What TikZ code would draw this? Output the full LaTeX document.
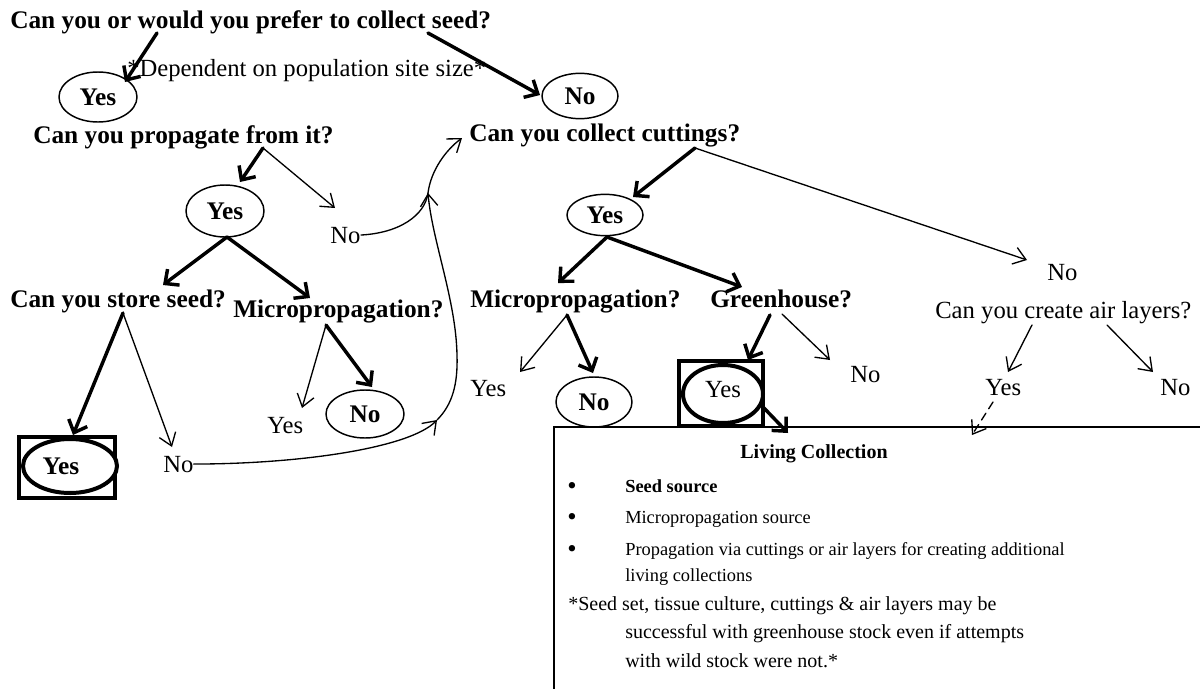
\documentclass[tikz,border=0pt]{standalone}
\usepackage{fontspec}
\setmainfont{Liberation Serif}
\usetikzlibrary{arrows.meta,shapes.geometric}

\tikzset{
  qtext/.style={font=\fontsize{19}{22}\selectfont\bfseries, inner sep=0pt, anchor=base west},
  ltext/.style={font=\fontsize{18.5}{22}\selectfont, inner sep=0pt, anchor=base west},
  oval/.style={ellipse, draw, line width=1.1pt, inner sep=0pt, fill=white,
               font=\fontsize{19}{22}\selectfont\bfseries},
  heavyoval/.style={ellipse, draw, line width=3pt, inner sep=0pt, fill=white},
  heavyframe/.style={rectangle, draw, line width=3.6pt, inner sep=0pt},
  thk/.style={line width=2.6pt, line cap=round, line join=round,
              -{Straight Barb[length=8pt,width=15pt]}},
  thn/.style={line width=1pt, line cap=round,
              -{Straight Barb[length=9pt,width=13pt]}},
  plain/.style={line width=1pt},
  boxtitle/.style={font=\fontsize{15}{18}\selectfont\bfseries, inner sep=0pt, anchor=base},
  bul/.style={font=\fontsize{13.8}{19.5}\selectfont, inner sep=0pt, anchor=base west},
  dot/.style={font=\fontsize{20}{20}\selectfont, inner sep=0pt, anchor=base},
  foot/.style={font=\fontsize{15}{21.4}\selectfont, inner sep=0pt, anchor=base west},
}

\begin{document}
\begin{tikzpicture}[x=0.75pt,y=-0.75pt]
\useasboundingbox (0,0) rectangle (1200,689);

% ---------- seed branch ----------
\node[qtext] (qseed) at (10,28) {Can you or would you prefer to collect seed?};
\node[ltext] (note) at (127,76) {*Dependent on population site size*};
\node[oval, minimum width=58.5pt, minimum height=37.5pt] (yes1) at (98,97) {Yes};
\node[oval, minimum width=57pt, minimum height=34pt] (no1) at (580,96) {No};

\coordinate (s1) at (157,33);  \coordinate (e1) at (125,82);
\coordinate (s2) at (428,33);  \coordinate (e2) at (540,95);
\draw[thk] (s1) -- (e1);
\draw[thk] (s2) -- (e2);

\node[qtext] (qprop) at (33,143) {Can you propagate from it?};
\node[oval, minimum width=58.5pt, minimum height=39pt] (yes2) at (225,211) {Yes};
\node[ltext] (no2) at (330,243) {No};

\coordinate (s3) at (263,148);
\coordinate (e3) at (240,182);
\coordinate (e4) at (335,208);
\draw[thk] (s3) -- (e3);
\draw[thn] (s3) -- (e4);

\node[qtext] (qstore) at (10,307) {Can you store seed?};
\node[qtext] (qmicroA) at (233,317) {Micropropagation?};

\coordinate (s5) at (227,237);
\coordinate (e5) at (163,285);
\coordinate (e6) at (310,298);
\draw[thk] (s5) -- (e5);
\draw[thk] (s5) -- (e6);

% stored seed: framed result
\node[heavyframe, minimum width=72pt, minimum height=45.75pt] (yes3frame) at (67,467.5) {};
\node[heavyoval, minimum width=70.5pt, minimum height=40.5pt,
      label={[font=\fontsize{19}{22}\selectfont\bfseries, xshift=-6.75pt]center:Yes}] (yes3) at (70,466) {};
\node[ltext] (no3) at (163,472) {No};

\coordinate (s7) at (123,313);
\coordinate (e7) at (73,435);
\coordinate (e8) at (172,447);
\draw[thk] (s7) -- (e7);
\draw[thn] (s7) -- (e8);

\node[ltext] (yes4) at (267,433) {Yes};
\node[oval, minimum width=58.5pt, minimum height=36pt] (no4) at (365,414) {No};

\coordinate (s9) at (326,325);
\coordinate (e9) at (302,408);
\coordinate (e10) at (372,387);
\draw[thn] (s9) -- (e9);
\draw[thk] (s9) -- (e10);

% ---------- return paths to the cuttings question ----------
\node[qtext] (qcut) at (469,141) {Can you collect cuttings?};
\coordinate (jA) at (437,420);
\coordinate (jB) at (428,193);
\coordinate (jC) at (462,138);

\draw[thn] (no3.east) .. controls (300,464) and (410,448) .. (jA);
\draw[thn] (jA) .. controls (452,405) and (458,385) .. (457,355)
                .. controls (456,300) and (432,240) .. (jB);
\draw[plain] (no2.east) .. controls (400,233) and (425,215) .. (jB);
\draw[thn] (jB) .. controls (431,170) and (446,150) .. (jC);

% ---------- cuttings branch ----------
\node[oval, minimum width=57pt, minimum height=31pt] (yes5) at (605,215) {Yes};
\node[ltext] (no8) at (1047,280) {No};

\coordinate (s15) at (695,148);
\coordinate (e15) at (633,197);
\coordinate (e16) at (1027,260);
\draw[thk] (s15) -- (e15);
\draw[thn] (s15) -- (e16);

\node[qtext] (qmicroB) at (470,307) {Micropropagation?};
\node[qtext] (qgreen) at (710,307) {Greenhouse?};

\coordinate (s17) at (607,237);
\coordinate (e17) at (558,283);
\coordinate (e18) at (742,287);
\draw[thk] (s17) -- (e17);
\draw[thk] (s17) -- (e18);

\node[ltext] (yes6) at (470,396) {Yes};
\node[oval, minimum width=57pt, minimum height=37.5pt] (no6) at (594,402) {No};

\coordinate (s19) at (567,315);
\coordinate (e19) at (520,372);
\coordinate (e20) at (593,373);
\draw[thn] (s19) -- (e19);
\draw[thk] (s19) -- (e20);

% greenhouse: framed result
\node[heavyframe, minimum width=63pt, minimum height=48.75pt] (yes7frame) at (721,393.5) {};
\node[heavyoval, minimum width=60pt, minimum height=43.5pt,
      label={[font=\fontsize{18.5}{22}\selectfont, yshift=3pt]center:Yes}] (yes7) at (723,394) {};
\node[ltext] (no7) at (850,382) {No};

\coordinate (s21) at (770,315);
\coordinate (s22) at (782,314);
\coordinate (e21) at (748,360);
\coordinate (e22) at (830,360);
\draw[thk] (s21) -- (e21);
\draw[thn] (s22) -- (e22);

% air layers
\node[ltext] (qair) at (935,318) {Can you create air layers?};
\node[ltext] (yes8) at (985,395) {Yes};
\node[ltext] (no9) at (1160,395) {No};

\coordinate (s24) at (1032,325);
\coordinate (e24) at (1008,372);
\coordinate (s25) at (1107,325);
\coordinate (e25) at (1153,372);
\draw[thn] (s24) -- (e24);
\draw[thn] (s25) -- (e25);

% ---------- living collection panel ----------
\draw[line width=1.2pt] (1205,427) -- (554,427) -- (554,700);
\node[boxtitle] (ltitle) at (814,458) {Living Collection};

\node[dot] (b1) at (572,494) {•};
\node[bul, font=\fontsize{13.8}{19.5}\selectfont\bfseries] (i1) at (625,492) {Seed source};
\node[dot] (b2) at (572,525) {•};
\node[bul] (i2) at (625,523) {Micropropagation source};
\node[dot] (b3) at (572,557) {•};
\node[bul] (i3a) at (625,555) {Propagation via cuttings or air layers for creating additional};
\node[bul] (i3b) at (625,581) {living collections};
\node[foot] (fn1) at (568,610) {*Seed set, tissue culture, cuttings \& air layers may be};
\node[foot] (fn2) at (625,638) {successful with greenhouse stock even if attempts};
\node[foot] (fn3) at (625,667) {with wild stock were not.*};

\coordinate (e23) at (788,433);
\coordinate (s23) at (763,407);
\draw[thk] (s23) -- (e23);

\coordinate (s26) at (993,402);
\coordinate (e26) at (972,435);
\draw[thn, dash pattern=on 6pt off 4pt] (s26) -- (e26);

\end{tikzpicture}
\end{document}
